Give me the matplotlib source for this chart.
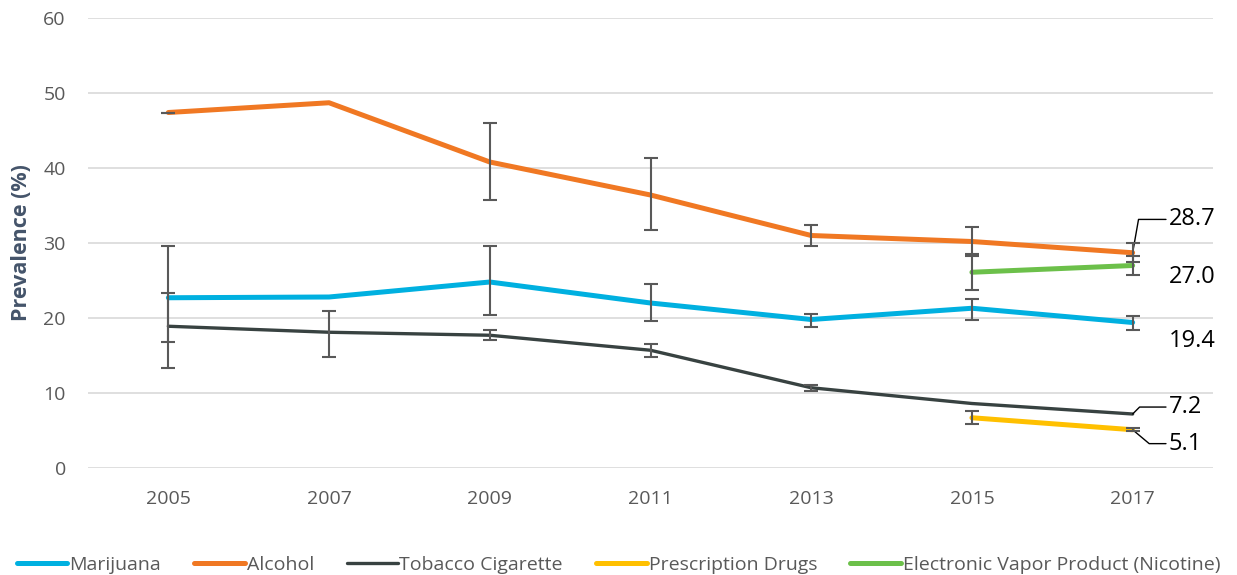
import matplotlib
matplotlib.use("Agg")
import matplotlib.pyplot as plt
import numpy as np

plt.rcParams['font.family'] = ['Open Sans', 'DejaVu Sans']

years = ["2005", "2007", "2009", "2011", "2013", "2015", "2017"]

marijuana = [22.7, 22.8, 24.8, 22.0, 19.8, 21.3, 19.4]
marijuana_lo = [16.8, None, 20.4, 19.6, 18.8, 19.7, 18.4]
marijuana_hi = [29.6, None, 29.6, 24.5, 20.5, 22.6, 20.3]

alcohol = [47.4, 48.7, 40.8, 36.4, 31.0, 30.2, 28.7]
alcohol_lo = [47.3, None, 35.8, 31.7, 29.6, 28.3, 27.5]
alcohol_hi = [47.4, None, 46.0, 41.3, 32.4, 32.1, 30.0]

tobacco = [18.9, 18.1, 17.7, 15.7, 10.7, 8.6, 7.2]
tobacco_lo = [13.4, 14.8, 17.1, 14.8, 10.3, None, None]
tobacco_hi = [23.4, 21.0, 18.4, 16.5, 11.1, None, None]

prescription = [None, None, None, None, None, 6.7, 5.1]
prescription_lo = [None, None, None, None, None, 5.9, 4.9]
prescription_hi = [None, None, None, None, None, 7.6, 5.3]

vapor = [None, None, None, None, None, 26.1, 27.0]
vapor_lo = [None, None, None, None, None, 23.7, 25.7]
vapor_hi = [None, None, None, None, None, 28.5, 28.3]

series = [
    ("Marijuana", marijuana, marijuana_lo, marijuana_hi, "#00B0E0", 3.6),
    ("Alcohol", alcohol, alcohol_lo, alcohol_hi, "#F07823", 3.6),
    ("Tobacco Cigarette", tobacco, tobacco_lo, tobacco_hi, "#384241", 2.4),
    ("Prescription Drugs", prescription, prescription_lo, prescription_hi, "#FFC000", 3.6),
    ("Electronic Vapor Product (Nicotine)", vapor, vapor_lo, vapor_hi, "#6CC04A", 3.6),
]

fig = plt.figure(figsize=(12.37, 5.75), dpi=100)
ax = fig.add_axes([88 / 1237, 107 / 575, 1125 / 1237, 450 / 575])

x = np.arange(len(years))
for name, vals, lo, hi, color, lw in series:
    xs = [i for i, v in enumerate(vals) if v is not None]
    ys = [vals[i] for i in xs]
    ax.plot(xs, ys, color=color, lw=lw, solid_capstyle='round', label=name, zorder=3)
    ex = [i for i in xs if lo[i] is not None]
    ey = [vals[i] for i in ex]
    el = [vals[i] - lo[i] for i in ex]
    eh = [hi[i] - vals[i] for i in ex]
    ax.errorbar(ex, ey, yerr=[el, eh], fmt='none', ecolor='#595959',
                elinewidth=1.5, capsize=5, capthick=1.5, zorder=4)

ax.set_xlim(-0.5, len(years) - 0.5)
ax.set_ylim(0, 60)
ax.set_xticks(x)
ax.set_xticklabels(years)
ax.set_yticks(range(0, 61, 10))
ax.grid(axis='y', color='#D9D9D9', lw=1.2)
ax.set_axisbelow(True)
for s in ax.spines.values():
    s.set_visible(False)
ax.tick_params(length=0, labelsize=14, colors='#595959')
ax.tick_params(axis='x', pad=16)
ax.tick_params(axis='y', pad=16)
ax.set_ylabel("Prevalence (%)", fontsize=15.5, fontweight='bold', color='#44546A')
ax.yaxis.set_label_coords(-56 / 1125, 0.5)

# end labels for 2017
last = len(years) - 1
lead = dict(arrowstyle='-', color='black', lw=1, shrinkA=0, shrinkB=0)
ax.annotate("28.7", (last, alcohol[-1]), xytext=(26, 24), textcoords='offset points',
            fontsize=17, va='center', arrowprops=dict(lead, connectionstyle="angle,angleA=0,angleB=80,rad=0"))
ax.annotate("27.0", (last, vapor[-1]), xytext=(26, -8), textcoords='offset points',
            fontsize=17, va='center')
ax.annotate("19.4", (last, marijuana[-1]), xytext=(26, -13), textcoords='offset points',
            fontsize=17, va='center')
ax.annotate("7.2", (last, tobacco[-1]), xytext=(26, 5), textcoords='offset points',
            fontsize=17, va='center', arrowprops=dict(lead, connectionstyle="angle,angleA=0,angleB=45,rad=0"))
ax.annotate("5.1", (last, prescription[-1]), xytext=(26, -10), textcoords='offset points',
            fontsize=17, va='center', arrowprops=dict(lead, connectionstyle="angle,angleA=0,angleB=-40,rad=0"))

leg = fig.legend(loc='lower center', bbox_to_anchor=(0.5, -0.028), ncol=5, frameon=False,
                 fontsize=14, handlelength=2.6, handletextpad=0.1, columnspacing=1.7)
for t in leg.get_texts():
    t.set_color('#595959')

fig.savefig("out.png", dpi=100)
